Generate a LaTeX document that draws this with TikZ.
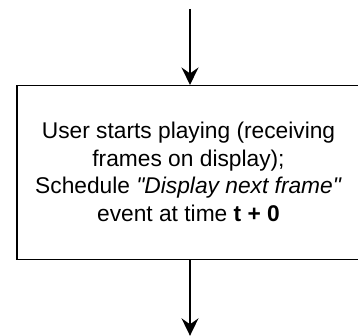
\documentclass[tikz,border=0pt]{standalone}
\usepackage{fontspec}
\setmainfont{Liberation Sans}[Ligatures=TeXOff]
\usetikzlibrary{arrows.meta}

\tikzset{
  flowline/.style={line width=1.5pt, -{Stealth[length=17.5pt, width=17pt, inset=6pt]}},
  procbox/.style={draw, line width=1.5pt, minimum width=346pt, minimum height=173.6pt, inner sep=0pt},
  proctext/.style={align=center, inner sep=0pt, font=\fontsize{22.75pt}{27.7pt}\selectfont},
}

\begin{document}
\begin{tikzpicture}[x=1pt, y=1pt]
  \useasboundingbox (0,0) rectangle (358,-336);
  \clip (0,0) rectangle (358,-336);

  % process step (its right edge runs past the page)
  \node[procbox] (step1) at (190,-172.5) {};
  \node[proctext] (step1text) at (188.5,-172) {User starts playing (receiving\\frames on display);\\Schedule \textit{"Display next frame"}\\event at time \textbf{t + 0}};

  % incoming and outgoing flow
  \coordinate (flowin) at (190,-9);
  \coordinate (flowout) at (190,-335.8);
  \draw[flowline] (flowin) -- (step1.north);
  \draw[flowline] (step1.south) -- (flowout);
\end{tikzpicture}
\end{document}
